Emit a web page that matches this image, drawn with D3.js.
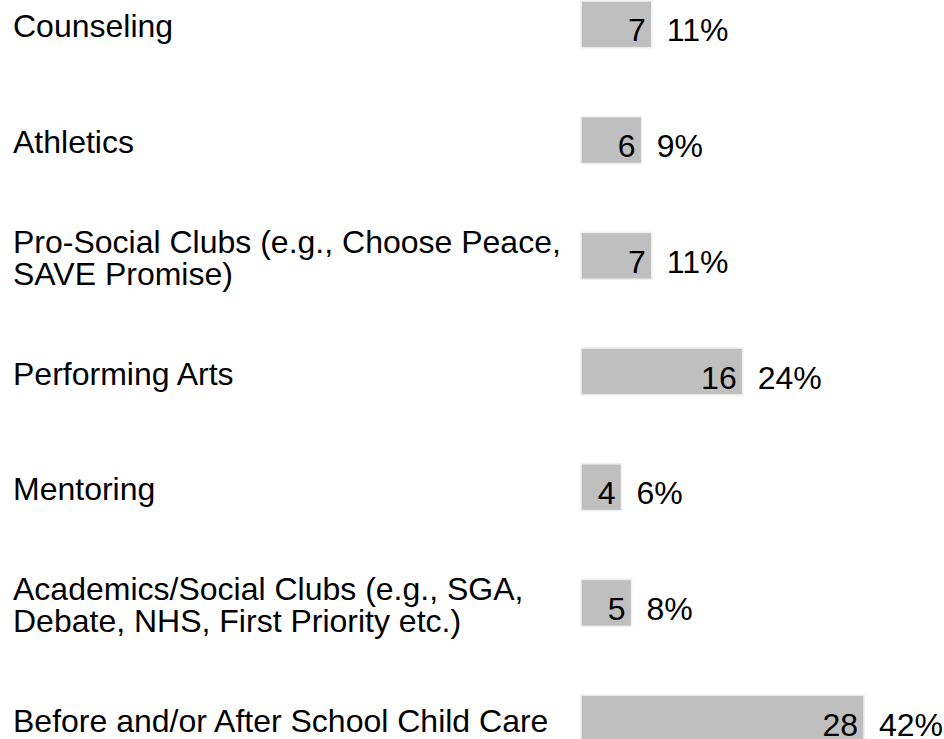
<!DOCTYPE html>
<html>
<head>
<meta charset="utf-8">
<script src="https://cdn.jsdelivr.net/npm/d3@7"></script>
<style>
  html, body { margin: 0; padding: 0; background: #fff; }
  text { font-family: "Liberation Sans", Arial, sans-serif; fill: #000; }
</style>
</head>
<body>
<div id="chart"></div>
<script>
// categories (each label split into its printed lines)
const categories = [
  ["Counseling"],
  ["Athletics"],
  ["Pro-Social Clubs (e.g., Choose Peace,", "SAVE Promise)"],
  ["Performing Arts"],
  ["Mentoring"],
  ["Academics/Social Clubs (e.g., SGA,", "Debate, NHS, First Priority etc.)"],
  ["Before and/or After School Child Care"]
];
const counts = [7, 6, 7, 16, 4, 5, 28];
const percents = ["11%", "9%", "11%", "24%", "6%", "8%", "42%"];

const width = 944;
const height = 739;
const fontSize = 32;
const lineH = 32;

const rows = categories.map((c, i) => ({ id: i, lines: c, count: counts[i], pct: percents[i] }));

const svg = d3.select("#chart")
  .append("svg")
  .attr("width", width)
  .attr("height", height)
  .style("display", "block");

svg.append("rect").attr("width", width).attr("height", height).attr("fill", "#fff");

const y = d3.scaleBand()
  .domain(rows.map(d => d.id))
  .range([1, 742])
  .paddingInner(0.595)
  .paddingOuter(0);

const x = d3.scaleLinear()
  .domain([0, 28])
  .range([581, 864]);

// bars
svg.append("g").selectAll("rect")
  .data(rows)
  .join("rect")
  .attr("x", x(0))
  .attr("y", d => y(d.id))
  .attr("width", d => x(d.count) - x(0))
  .attr("height", y.bandwidth())
  .attr("fill", "#bfbfbf")
  .attr("stroke", "#efefef")
  .attr("stroke-width", 1.5);

// category labels
const labels = svg.append("g").selectAll("text")
  .data(rows)
  .join("text")
  .attr("x", 13)
  .attr("y", d => y(d.id) + y.bandwidth() / 2 + 13 - (d.lines.length - 1) * lineH / 2)
  .style("font-size", fontSize + "px");

labels.selectAll("tspan")
  .data(d => d.lines)
  .join("tspan")
  .attr("x", 13)
  .attr("dy", (l, i) => i === 0 ? 0 : lineH)
  .text(l => l);

// counts inside bars
svg.append("g").selectAll("text")
  .data(rows)
  .join("text")
  .attr("x", d => x(d.count) - 6)
  .attr("y", d => y(d.id) + y.bandwidth() / 2 + 17)
  .attr("text-anchor", "end")
  .style("font-size", fontSize + "px")
  .text(d => d.count);

// percentages after bars
svg.append("g").selectAll("text")
  .data(rows)
  .join("text")
  .attr("x", d => x(d.count) + 15)
  .attr("y", d => y(d.id) + y.bandwidth() / 2 + 17)
  .style("font-size", fontSize + "px")
  .text(d => d.pct);
</script>
</body>
</html>
